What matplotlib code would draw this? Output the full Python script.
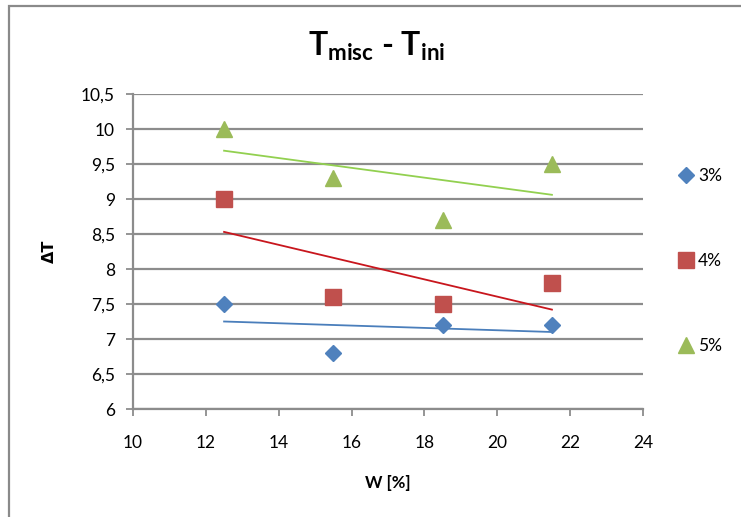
import numpy as np
import matplotlib
matplotlib.use("Agg")
import matplotlib.pyplot as plt
from matplotlib.patches import Rectangle
from matplotlib.ticker import FuncFormatter

plt.rcParams['font.family'] = ['Lato', 'DejaVu Sans']
plt.rcParams['mathtext.fontset'] = 'custom'
plt.rcParams['mathtext.rm'] = 'Lato'
plt.rcParams['mathtext.bf'] = 'Lato:bold'

# Data
w_values = [12.5, 15.5, 18.5, 21.5]
series_labels = ["3%", "4%", "5%"]
dt_3 = [7.5, 6.8, 7.2, 7.2]
dt_4 = [9.0, 7.6, 7.5, 7.8]
dt_5 = [10.0, 9.3, 8.7, 9.5]

x_ticks = [10, 12, 14, 16, 18, 20, 22, 24]
y_ticks = [6, 6.5, 7, 7.5, 8, 8.5, 9, 9.5, 10, 10.5]

marker_colors = ["#4F81BD", "#C0504D", "#9BBB59"]
trend_colors = ["#4A7EBB", "#C8161D", "#92D050"]
markers = ["D", "s", "^"]
marker_sizes = [8.5, 11, 12]

W, H = 741, 517
fig = plt.figure(figsize=(W / 100, H / 100), dpi=100)
ax = fig.add_axes([133 / W, (H - 409) / H, (643 - 133) / W, (409 - 94) / H])

grid_col = "#8C8C8C"
for s, lbl, mc, tc, mk, ms in zip([dt_3, dt_4, dt_5], series_labels, marker_colors,
                                   trend_colors, markers, marker_sizes):
    ax.plot(w_values, s, linestyle="none", marker=mk, markersize=ms,
            color=mc, markeredgecolor=mc, label=lbl, zorder=3)
    k, b = np.polyfit(w_values, s, 1)
    xs = np.array([w_values[0], w_values[-1]])
    ax.plot(xs, k * xs + b, color=tc, linewidth=1.3, zorder=2)

ax.set_xlim(10, 24)
ax.set_ylim(6, 10.5)
ax.set_xticks(x_ticks)
ax.set_yticks(y_ticks)
ax.yaxis.set_major_formatter(FuncFormatter(lambda v, p: f"{v:g}".replace(".", ",")))
ax.grid(axis="y", color=grid_col, linewidth=1.6, zorder=0)
ax.set_axisbelow(True)

for side in ["top", "right"]:
    ax.spines[side].set_visible(False)
for side in ["left", "bottom"]:
    ax.spines[side].set_color(grid_col)
    ax.spines[side].set_linewidth(1.6)
ax.tick_params(axis="both", colors=grid_col, width=1.3, length=5, labelsize=12.5,
               labelcolor="black")
ax.tick_params(axis="x", pad=14)
ax.tick_params(axis="y", pad=8)

ax.set_xlabel("W [%]", fontsize=12, fontweight="bold", labelpad=17)
fig.text(49 / W, 1 - 251 / H, "ΔT", rotation=90, fontsize=11.5, fontweight="bold",
         ha="center", va="center", family=["DejaVu Sans"])

fig.text(377 / W, 1 - 46 / H, r"$\mathbf{T_{misc}}$ - $\mathbf{T_{ini}}$",
         fontsize=23, fontweight="bold", ha="center", va="center")

leg = ax.legend(loc="center left", bbox_to_anchor=(679 / W, 1 - 261 / H),
                bbox_transform=fig.transFigure, frameon=False, fontsize=12.5,
                handlelength=0.8, handletextpad=0.3, labelspacing=3.95,
                borderaxespad=0, borderpad=0)

# chart frame (top and left edges visible)
fig.patches.append(Rectangle((9 / W, -0.5), 2, (H - 6) / H + 0.5,
                             transform=fig.transFigure, fill=False,
                             edgecolor="#8A8A8A", linewidth=1.6))

fig.savefig("out.png", dpi=100)
